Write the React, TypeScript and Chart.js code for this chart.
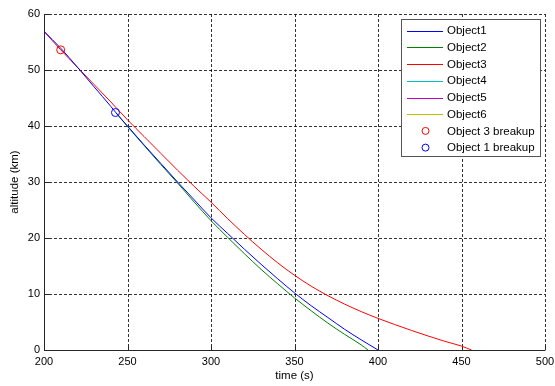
import React, { useEffect, useRef } from "react";
import { Chart, registerables } from "chart.js";

Chart.register(...registerables);

// ---- data ----
const t1 = [200, 210, 220, 230, 240, 243, 250, 260, 270, 280, 290, 300, 310, 320, 330, 340, 350, 360, 370, 380, 390, 400];
const alt1 = [56.9, 53.9, 50.5, 47.0, 43.5, 42.4, 40.0, 36.6, 33.3, 30.0, 26.8, 23.6, 20.8, 18.0, 15.3, 12.7, 10.2, 7.9, 5.8, 3.7, 1.8, 0];

const t2 = [243, 250, 260, 270, 280, 290, 300, 310, 320, 330, 340, 350, 360, 370, 380, 390, 394];
const alt2 = [42.4, 39.9, 36.5, 33.1, 29.8, 26.4, 23.1, 20.1, 17.2, 14.4, 11.8, 9.3, 7.0, 4.8, 2.8, 0.9, 0];

const t3 = [200, 210, 220, 230, 240, 250, 260, 270, 280, 290, 300, 310, 320, 330, 340, 350, 360, 370, 380, 390, 400, 410, 420, 430, 440, 450, 456];
const alt3 = [56.9, 53.6, 50.5, 47.4, 44.3, 41.1, 38.1, 35.1, 32.1, 29.2, 26.4, 23.45, 20.65, 18.0, 15.55, 13.35, 11.4, 9.7, 8.2, 6.85, 5.65, 4.55, 3.5, 2.5, 1.55, 0.7, 0];

const t4: number[] = [];
const alt4: number[] = [];
const t5: number[] = [];
const alt5: number[] = [];
const t6: number[] = [];
const alt6: number[] = [];

const breakup3 = { t: 210, alt: 53.6 };
const breakup1 = { t: 242.8, alt: 42.4 };

const seriesNames = ["Object1", "Object2", "Object3", "Object4", "Object5", "Object6"];
const markerNames = ["Object 3 breakup", "Object 1 breakup"];

const xTicks = [200, 250, 300, 350, 400, 450, 500];
const yTicks = [0, 10, 20, 30, 40, 50, 60];

const lineColors = ["#0000ff", "#008000", "#ff0000", "#00bfbf", "#bf00bf", "#bfbf00"];
const markerColors = ["#ff0000", "#0000ff"];

const FONT = '"Liberation Sans", Arial, sans-serif';

function pts(t: number[], a: number[]) {
  return t.map((x, i) => ({ x, y: a[i] }));
}

const gridPlugin = {
  id: "mgrid",
  beforeDatasetsDraw(chart: any) {
    const ctx = chart.ctx;
    const xs = chart.scales.x;
    const ys = chart.scales.y;
    const { left, right, top, bottom } = chart.chartArea;
    ctx.save();
    ctx.lineWidth = 1;
    ctx.strokeStyle = "rgba(0,0,0,0.8)";
    ctx.setLineDash([3, 2]);
    xTicks.forEach((v) => {
      const px = Math.round(xs.getPixelForValue(v)) + 0.5;
      ctx.beginPath();
      ctx.moveTo(px, top);
      ctx.lineTo(px, bottom);
      ctx.stroke();
    });
    yTicks.forEach((v) => {
      const py = Math.round(ys.getPixelForValue(v)) + 0.5;
      ctx.beginPath();
      ctx.moveTo(left, py);
      ctx.lineTo(right, py);
      ctx.stroke();
    });
    ctx.setLineDash([]);
    ctx.strokeStyle = "#262626";
    const lx = Math.round(left) + 0.5;
    const by = Math.round(bottom) + 0.5;
    ctx.beginPath();
    ctx.moveTo(lx, top);
    ctx.lineTo(lx, by);
    ctx.lineTo(right, by);
    ctx.stroke();
    xTicks.forEach((v) => {
      const px = Math.round(xs.getPixelForValue(v)) + 0.5;
      ctx.beginPath();
      ctx.moveTo(px, by);
      ctx.lineTo(px, by - 5);
      ctx.stroke();
    });
    yTicks.forEach((v) => {
      const py = Math.round(ys.getPixelForValue(v)) + 0.5;
      ctx.beginPath();
      ctx.moveTo(lx, py);
      ctx.lineTo(lx + 5, py);
      ctx.stroke();
    });
    ctx.restore();
  },
  afterDraw(chart: any) {
    const ctx = chart.ctx;
    const { left, right, top, bottom } = chart.chartArea;
    ctx.save();
    ctx.fillStyle = "#000";
    ctx.font = `11.5px ${FONT}`;
    ctx.textAlign = "center";
    ctx.textBaseline = "middle";
    ctx.fillText("time (s)", (left + right) / 2, 376);
    ctx.translate(15, (top + bottom) / 2);
    ctx.rotate(-Math.PI / 2);
    ctx.fillText("altitude (km)", 0, 0);
    ctx.restore();

    ctx.save();
    const bx = 401.5, by = 19.5, bw = 139, bh = 137;
    ctx.fillStyle = "#fff";
    ctx.fillRect(bx, by, bw, bh);
    ctx.strokeStyle = "#555";
    ctx.lineWidth = 1;
    ctx.strokeRect(bx, by, bw, bh);
    ctx.font = `11.5px ${FONT}`;
    ctx.textAlign = "left";
    ctx.textBaseline = "middle";
    const rowH = 16.7;
    const y0 = 30.7;
    seriesNames.forEach((n, i) => {
      const y = Math.round(y0 + i * rowH) + 0.5;
      ctx.strokeStyle = lineColors[i];
      ctx.beginPath();
      ctx.moveTo(407, y);
      ctx.lineTo(443, y);
      ctx.stroke();
      ctx.fillStyle = "#000";
      ctx.fillText(n, 447, y0 + i * rowH + 0.5);
    });
    markerNames.forEach((n, j) => {
      const i = seriesNames.length + j;
      const y = y0 + i * rowH;
      ctx.strokeStyle = markerColors[j];
      ctx.beginPath();
      ctx.arc(425.5, y, 3.5, 0, Math.PI * 2);
      ctx.stroke();
      ctx.fillStyle = "#000";
      ctx.fillText(n, 447, y + 0.5);
    });
    ctx.restore();
  },
};

export default function App() {
  const ref = useRef<HTMLCanvasElement | null>(null);
  useEffect(() => {
    document.body.style.margin = "0";
    const lineDs = [
      [t1, alt1],
      [t2, alt2],
      [t3, alt3],
      [t4, alt4],
      [t5, alt5],
      [t6, alt6],
    ].map(([t, a], i) => ({
      label: seriesNames[i],
      data: pts(t as number[], a as number[]),
      showLine: true,
      borderColor: lineColors[i],
      backgroundColor: lineColors[i],
      borderWidth: 1,
      pointRadius: 0,
      cubicInterpolationMode: "monotone",
      fill: false,
    }));
    const markerDs = [breakup3, breakup1].map((b, j) => ({
      label: markerNames[j],
      data: [{ x: b.t, y: b.alt }],
      showLine: false,
      borderColor: markerColors[j],
      backgroundColor: "rgba(0,0,0,0)",
      borderWidth: 1,
      pointRadius: 4,
      pointStyle: "circle",
    }));
    const chart = new Chart(ref.current!, {
      type: "scatter",
      data: { datasets: [...markerDs, ...lineDs] as any },
      options: {
        animation: false,
        responsive: false,
        maintainAspectRatio: false,
        layout: { padding: { left: 0, right: 10, top: 14, bottom: 0 } },
        plugins: { legend: { display: false }, tooltip: { enabled: false } },
        scales: {
          x: {
            type: "linear",
            min: 200,
            max: 500,
            afterBuildTicks: (s: any) => {
              s.ticks = xTicks.map((v) => ({ value: v }));
            },
            afterFit: (s: any) => {
              s.height = 36;
              s.paddingLeft = 0;
              s.paddingRight = 0;
            },
            grid: { display: false, drawTicks: false },
            border: { display: false },
            ticks: {
              padding: 5,
              maxRotation: 0,
              color: "#000",
              font: { family: FONT, size: 11 },
            },
          },
          y: {
            type: "linear",
            min: 0,
            max: 60,
            afterBuildTicks: (s: any) => {
              s.ticks = yTicks.map((v) => ({ value: v }));
            },
            afterFit: (s: any) => {
              s.width = 44;
              s.paddingTop = 0;
              s.paddingBottom = 0;
            },
            grid: { display: false, drawTicks: false },
            border: { display: false },
            ticks: {
              padding: 4,
              color: "#000",
              font: { family: FONT, size: 11 },
            },
          },
        },
      },
      plugins: [gridPlugin],
    });
    return () => chart.destroy();
  }, []);
  return (
    <div style={{ position: "absolute", left: 0, top: 0, width: 555, height: 386, background: "#fff" }}>
      <canvas ref={ref} width={555} height={386} style={{ display: "block" }} />
    </div>
  );
}
